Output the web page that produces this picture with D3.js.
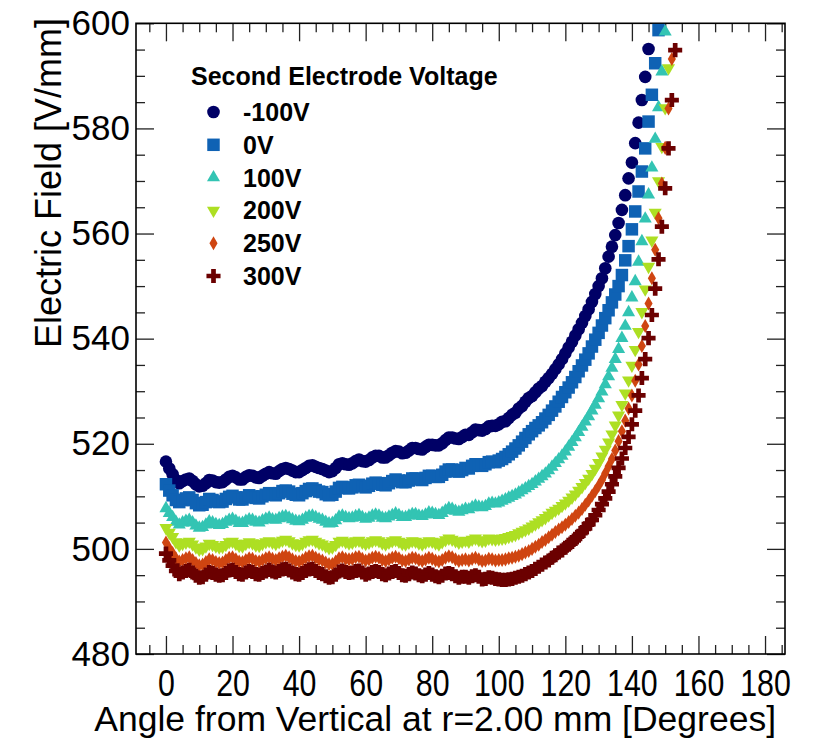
<!DOCTYPE html>
<html>
<head>
<meta charset="utf-8">
<script src="https://cdnjs.cloudflare.com/ajax/libs/d3/7.8.5/d3.min.js"></script>
<style>
  body { margin: 0; background: #fff; }
  text { font-family: "Liberation Sans", Arial, Helvetica, sans-serif; fill: #000; }
</style>
</head>
<body>
<div id="chart"></div>
<script>
// Electric field vs angle, one point per degree starting at 0 deg
var angleStep = 1;

var fieldM100 = [516.6,515.3,514.2,513.1,512.5,512.9,513.2,513.4,512.9,512.3,
  511.9,512.0,512.5,513.1,513.0,512.7,512.6,512.7,513.2,513.7,
  513.9,513.6,513.2,513.2,513.7,514.0,513.9,513.6,513.5,513.9,
  514.3,514.6,514.4,514.3,514.8,515.2,515.4,515.2,514.9,514.6,
  514.6,515.0,515.4,515.8,515.9,515.6,515.4,515.2,514.9,514.6,
  514.8,515.4,516.1,516.3,516.1,516.0,516.3,516.7,517.0,516.7,
  516.6,516.9,517.4,517.7,517.7,517.4,517.4,517.8,518.3,518.6,
  518.5,518.2,518.3,518.7,519.2,519.2,519.0,518.9,519.4,519.8,
  519.8,519.7,519.7,520.1,520.7,521.2,521.2,521.0,520.9,521.3,
  521.7,521.7,522.2,522.7,522.6,522.5,522.8,523.3,523.4,523.4,
  523.7,524.2,524.3,524.9,525.5,525.9,526.7,527.2,528.0,528.7,
  529.1,529.8,530.5,531.0,531.8,532.5,533.3,534.2,535.1,536.1,
  537.2,538.3,539.4,540.6,541.8,543.0,544.3,545.6,547.0,548.5,
  550.0,551.5,553.4,555.6,557.5,559.7,562.0,564.5,567.3,570.5,
  573.5,577.2,581.1,585.4,589.8,595.1,600.8];

var field0 = [512.3,511.1,510.2,509.3,508.9,509.3,509.6,509.8,509.3,508.7,
  508.3,508.4,508.9,509.5,509.3,509.0,508.9,509.0,509.5,509.9,
  510.1,509.8,509.4,509.4,509.8,510.2,510.0,509.7,509.6,510.0,
  510.3,510.6,510.4,510.2,510.6,511.0,511.1,510.9,510.5,510.3,
  510.2,510.6,511.0,511.4,511.5,511.2,510.9,510.8,510.4,510.2,
  510.3,510.9,511.6,511.8,511.6,511.5,511.7,512.1,512.2,511.9,
  511.7,512.0,512.4,512.6,512.5,512.2,512.1,512.5,512.9,513.2,
  513.0,512.7,512.7,513.0,513.4,513.4,513.2,513.1,513.5,513.9,
  513.9,513.7,513.7,514.1,514.7,515.1,515.1,514.8,514.7,515.0,
  515.4,515.3,515.8,516.1,516.0,515.8,516.1,516.5,516.6,516.5,
  516.8,517.1,517.5,518.0,518.5,519.1,519.7,520.4,521.1,521.8,
  522.4,523.0,523.5,524.1,524.8,525.5,526.3,527.1,528.0,528.9,
  529.8,530.7,531.7,532.7,533.8,534.9,536.0,537.2,538.5,539.8,
  541.1,542.5,543.9,545.4,546.9,548.4,550.0,552.1,554.9,557.6,
  560.8,564.2,568.0,571.8,576.2,581.3,586.4,592.4,598.7];

var field100 = [507.7,506.8,506.0,505.1,504.6,505.0,505.3,505.5,505.0,504.4,
  504.0,504.1,504.6,505.2,505.0,504.7,504.5,504.7,505.1,505.5,
  505.7,505.3,504.9,504.9,505.3,505.6,505.5,505.1,505.0,505.4,
  505.7,505.9,505.6,505.5,505.8,506.1,506.2,505.9,505.6,505.3,
  505.2,505.5,505.9,506.2,506.3,506.0,505.7,505.5,505.1,504.8,
  504.9,505.4,506.1,506.3,506.0,505.8,505.9,506.2,506.4,506.0,
  505.7,505.9,506.3,506.5,506.3,505.9,505.8,506.1,506.4,506.7,
  506.4,506.0,506.0,506.3,506.6,506.6,506.3,506.2,506.5,506.9,
  506.8,506.6,506.4,506.8,507.3,507.7,507.6,507.2,507.0,507.3,
  507.6,507.5,507.9,508.2,508.0,507.9,508.1,508.6,508.7,508.6,
  508.8,509.1,509.4,509.7,510.0,510.3,510.7,511.1,511.5,511.9,
  512.3,512.8,513.3,513.8,514.3,514.9,515.6,516.3,517.0,517.7,
  518.5,519.4,520.3,521.2,522.2,523.2,524.2,525.2,526.3,527.4,
  528.6,529.9,531.3,532.8,534.4,536.1,538.0,540.1,542.4,545.0,
  547.8,550.9,554.6,558.5,562.8,567.4,572.5,578.0,584.0,590.8,598.4];

var field200 = [504.0,503.1,502.3,501.3,500.7,501.0,501.2,501.4,500.9,500.3,
  499.9,500.0,500.5,501.0,500.8,500.5,500.3,500.4,500.8,501.3,
  501.4,501.0,500.6,500.5,501.0,501.3,501.1,500.7,500.6,501.0,
  501.3,501.5,501.2,501.0,501.3,501.6,501.8,501.5,501.1,500.8,
  500.7,501.0,501.4,501.7,501.8,501.4,501.1,500.9,500.5,500.2,
  500.3,500.8,501.4,501.6,501.3,501.1,501.2,501.5,501.6,501.2,
  501.0,501.2,501.5,501.7,501.5,501.1,500.9,501.2,501.5,501.7,
  501.4,501.0,500.9,501.2,501.5,501.4,501.1,500.9,501.2,501.5,
  501.4,501.1,500.9,501.3,501.7,502.0,501.8,501.5,501.2,501.4,
  501.6,501.4,501.8,502.0,501.7,501.5,501.6,502.0,501.9,501.8,
  501.9,502.0,502.1,502.3,502.5,502.7,503.0,503.3,503.6,503.9,
  504.3,504.7,505.1,505.5,505.9,506.4,506.9,507.3,507.7,508.2,
  508.7,509.2,509.8,510.4,511.1,511.8,512.6,513.4,514.3,515.3,
  516.4,517.6,518.9,520.3,521.8,523.5,525.4,527.4,529.6,532.1,
  534.9,537.9,541.3,545.1,549.4,553.7,558.7,564.0,570.0,576.5,
  583.9,591.5,600.2];

var field250 = [501.2,500.1,499.2,498.2,497.6,497.9,498.2,498.4,497.9,497.3,
  496.9,497.0,497.5,498.0,497.9,497.5,497.3,497.4,497.9,498.3,
  498.4,498.0,497.6,497.5,497.9,498.2,498.1,497.7,497.6,497.9,
  498.2,498.4,498.1,497.9,498.2,498.5,498.7,498.4,498.0,497.7,
  497.6,497.9,498.3,498.6,498.7,498.3,498.0,497.8,497.4,497.1,
  497.1,497.6,498.2,498.4,498.1,498.0,498.1,498.4,498.5,498.1,
  497.8,498.0,498.3,498.5,498.3,497.9,497.7,498.0,498.3,498.5,
  498.2,497.8,497.7,498.0,498.3,498.2,497.9,497.7,498.0,498.3,
  498.1,497.8,497.6,497.9,498.3,498.6,498.4,498.0,497.7,497.9,
  498.0,497.8,498.1,498.3,498.0,497.7,497.8,498.1,498.0,497.8,
  497.9,497.9,498.0,498.2,498.3,498.5,498.7,499.0,499.3,499.6,
  500.0,500.4,500.8,501.3,501.7,502.2,502.7,503.2,503.7,504.1,
  504.6,505.1,505.7,506.3,506.9,507.6,508.4,509.2,510.1,511.0,
  512.0,513.1,514.4,515.7,517.1,518.7,520.5,522.4,524.4,526.7,
  529.2,532.0,535.1,538.6,542.4,546.7,551.5,556.9,562.9,569.5,
  576.3,583.8,593.2];

var field300 = [499.1,497.8,496.8,495.8,495.2,495.5,495.8,496.0,495.5,494.9,
  494.5,494.6,495.1,495.6,495.4,495.1,494.9,495.0,495.4,495.9,
  496.0,495.6,495.2,495.1,495.5,495.8,495.6,495.2,495.1,495.4,
  495.7,496.0,495.7,495.5,495.8,496.1,496.2,495.9,495.5,495.2,
  495.1,495.4,495.8,496.1,496.2,495.8,495.4,495.2,494.8,494.5,
  494.6,495.1,495.7,495.9,495.6,495.4,495.5,495.8,495.9,495.5,
  495.1,495.3,495.6,495.8,495.6,495.2,495.0,495.3,495.6,495.8,
  495.4,495.0,494.9,495.2,495.5,495.3,495.0,494.8,495.1,495.4,
  495.1,494.8,494.6,494.9,495.3,495.4,495.2,494.8,494.5,494.7,
  494.7,494.5,494.8,495.0,494.7,494.2,494.3,494.6,494.5,494.3,
  494.2,494.1,494.1,494.2,494.3,494.5,494.7,494.9,495.2,495.5,
  495.8,496.2,496.6,497.0,497.4,497.8,498.3,498.8,499.3,499.7,
  500.2,500.8,501.3,501.9,502.5,503.2,503.9,504.7,505.5,506.4,
  507.4,508.5,509.6,510.9,512.3,513.8,515.4,517.2,519.2,521.3,
  523.7,526.3,529.2,532.5,536.1,540.1,544.5,549.5,555.1,561.3,
  568.6,576.2,585.4,594.9];

var seriesLabels = ["-100V", "0V", "100V", "200V", "250V", "300V"];
var seriesColors = ["#000066", "#0f62b4", "#33c4b3", "#addf23", "#cf4511", "#6b0000"];
var xTickLabels = [0, 20, 40, 60, 80, 100, 120, 140, 160, 180];
var yTickLabels = [480, 500, 520, 540, 560, 580, 600];

var seriesValues = [fieldM100, field0, field100, field200, field250, field300];

// marker shapes (ROOT style: circle, square, triangle up/down, diamond, cross)
var markers = [
  { type: d3.symbolCircle,   size: 125, rot: 0 },
  { type: d3.symbolSquare,   size: 156, rot: 0 },
  { type: d3.symbolTriangle, size: 74,  rot: 0 },
  { type: d3.symbolTriangle, size: 74,  rot: 180 },
  { type: d3.symbolDiamond,  size: 57,  rot: 0 },
  { type: d3.symbolCross,    size: 110, rot: 0 }
];

var W = 821, H = 740;
var frame = { left: 136, right: 785, top: 23.3, bottom: 654 };

var svg = d3.select("#chart").append("svg")
  .attr("width", W)
  .attr("height", H);

svg.append("rect").attr("width", W).attr("height", H).attr("fill", "#fff");

var xScale = d3.scaleLinear().domain([-9, 186]).range([frame.left, frame.right]);
var yScale = d3.scaleLinear().domain([480, 600]).range([frame.bottom, frame.top]);

var xMinor = d3.range(-5, 186, 5).filter(function(d) { return d % 20 !== 0; });
var yMinor = d3.range(485, 600, 5).filter(function(d) { return d % 20 !== 0; });

function styleAxis(g) {
  g.select(".domain").remove();
  g.selectAll(".tick line").attr("stroke", "#222").attr("stroke-width", 1.3);
}

// bottom axis
var xAxisG = svg.append("g").attr("transform", "translate(0," + frame.bottom + ")");
xAxisG.call(d3.axisBottom(xScale).tickValues(xTickLabels).tickSize(-18).tickSizeOuter(0)
    .tickPadding(16).tickFormat(d3.format("d")))
  .call(styleAxis);
xAxisG.selectAll(".tick text")
  .style("font-size", "37px")
  .attr("transform", "scale(0.82,1)");
svg.append("g").attr("transform", "translate(0," + frame.bottom + ")")
  .call(d3.axisBottom(xScale).tickValues(xMinor).tickSize(-9).tickSizeOuter(0).tickFormat(""))
  .call(styleAxis);

// top axis (ticks only)
svg.append("g").attr("transform", "translate(0," + frame.top + ")")
  .call(d3.axisTop(xScale).tickValues(xTickLabels).tickSize(-18).tickSizeOuter(0).tickFormat(""))
  .call(styleAxis);
svg.append("g").attr("transform", "translate(0," + frame.top + ")")
  .call(d3.axisTop(xScale).tickValues(xMinor).tickSize(-9).tickSizeOuter(0).tickFormat(""))
  .call(styleAxis);

// left axis
var yAxisG = svg.append("g").attr("transform", "translate(" + frame.left + ",0)");
yAxisG.call(d3.axisLeft(yScale).tickValues(yTickLabels).tickSize(-18).tickSizeOuter(0)
    .tickPadding(6).tickFormat(d3.format("d")))
  .call(styleAxis);
yAxisG.selectAll(".tick text").style("font-size", "35px");
svg.append("g").attr("transform", "translate(" + frame.left + ",0)")
  .call(d3.axisLeft(yScale).tickValues(yMinor).tickSize(-9).tickSizeOuter(0).tickFormat(""))
  .call(styleAxis);

// right axis (ticks only)
svg.append("g").attr("transform", "translate(" + frame.right + ",0)")
  .call(d3.axisRight(yScale).tickValues(yTickLabels).tickSize(-18).tickSizeOuter(0).tickFormat(""))
  .call(styleAxis);
svg.append("g").attr("transform", "translate(" + frame.right + ",0)")
  .call(d3.axisRight(yScale).tickValues(yMinor).tickSize(-9).tickSizeOuter(0).tickFormat(""))
  .call(styleAxis);

// frame
svg.append("rect")
  .attr("x", frame.left).attr("y", frame.top)
  .attr("width", frame.right - frame.left).attr("height", frame.bottom - frame.top)
  .attr("fill", "none").attr("stroke", "#000").attr("stroke-width", 1.6);

// axis titles
svg.append("text")
  .attr("x", 776).attr("y", 731)
  .attr("text-anchor", "end")
  .style("font-size", "35.5px")
  .text("Angle from Vertical at r=2.00 mm [Degrees]");
svg.append("text")
  .attr("transform", "translate(61,18) rotate(-90)")
  .attr("text-anchor", "end")
  .style("font-size", "36px")
  .text("Electric Field [V/mm]");

// data points
seriesValues.forEach(function(values, s) {
  var pts = values.map(function(v, i) { return { a: i * angleStep, v: v }; })
    .filter(function(d) { return d.v <= 600 && d.v >= 480; });
  var m = markers[s];
  svg.append("g").attr("class", "series-" + s)
    .selectAll("path")
    .data(pts)
    .enter().append("path")
    .attr("d", d3.symbol().type(m.type).size(m.size))
    .attr("transform", function(d) {
      return "translate(" + xScale(d.a) + "," + yScale(d.v) + ") rotate(" + m.rot + ")";
    })
    .attr("fill", seriesColors[s]);
});

// legend
var legend = svg.append("g").attr("class", "legend");
legend.append("text")
  .attr("x", 191).attr("y", 85)
  .style("font-size", "25px").style("font-weight", "bold")
  .text("Second Electrode Voltage");
seriesLabels.forEach(function(label, i) {
  var cy = 112 + i * 32.8;
  var m = markers[i];
  legend.append("path")
    .attr("d", d3.symbol().type(m.type).size(m.size))
    .attr("transform", "translate(213.5," + cy + ") rotate(" + m.rot + ")")
    .attr("fill", seriesColors[i]);
  legend.append("text")
    .attr("x", 243).attr("y", cy + 9)
    .style("font-size", "25px").style("font-weight", "bold")
    .text(label);
});
</script>
</body>
</html>
